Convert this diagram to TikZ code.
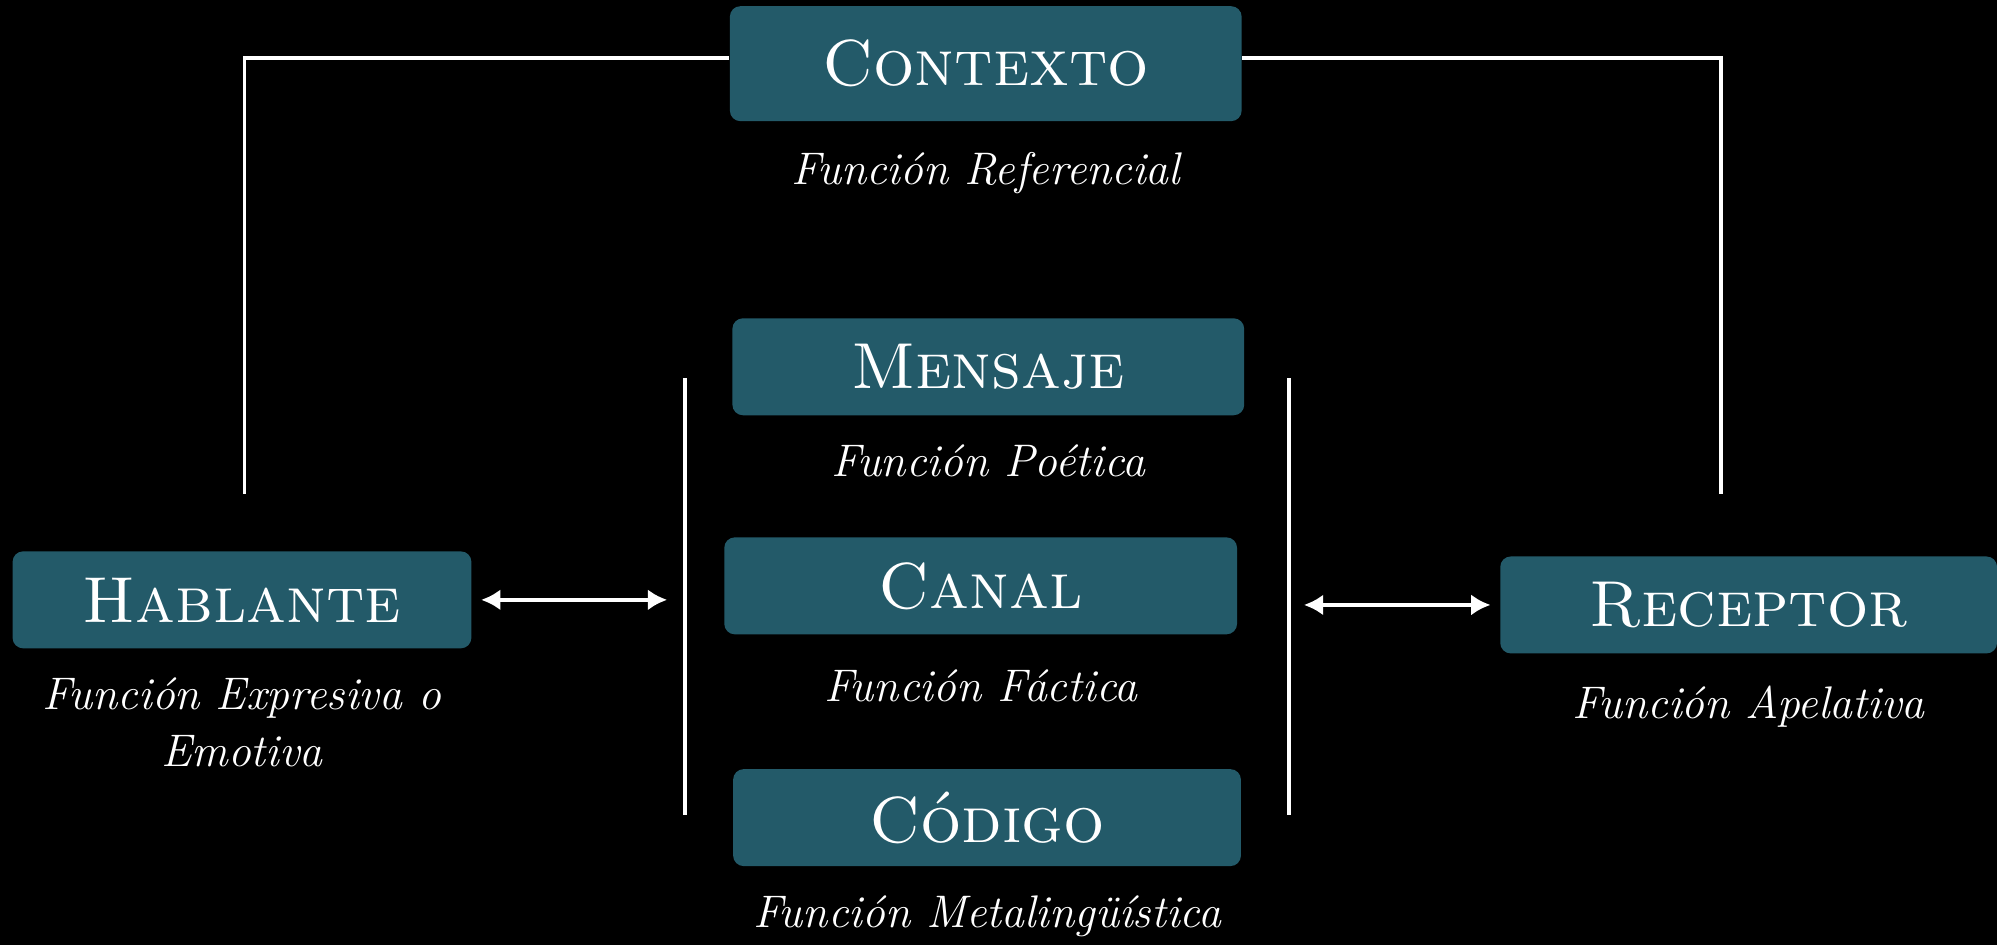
\documentclass[tikz,border=0pt]{standalone}
\usepackage{xcolor}
\usepackage{tikz}
\usetikzlibrary{shapes,arrows,arrows.meta,positioning}
\definecolor{boxteal}{RGB}{35,90,105}
\tikzstyle{block} = [rectangle, fill=boxteal, text=white, rounded corners=3pt,
    inner sep=0pt, minimum height=0.97cm, font=\fontsize{18.5}{22}\selectfont]
\tikzstyle{func} = [text=white, inner sep=0pt, align=center,
    font=\fontsize{13}{16.3}\selectfont\itshape]
\tikzstyle{line} = [draw=white, line width=1.1pt]
\tikzstyle{link} = [draw=white, line width=1.2pt, {Latex[length=5.5pt,width=6pt]}-{Latex[length=5.5pt,width=6pt]}]

\begin{document}
\begin{tikzpicture}[x=0.012736cm, y=-0.012736cm, node distance=0.28cm]
    \fill[black] (0,0) rectangle (1568,742);
    \useasboundingbox (0,0) rectangle (1568,742);

    % Nodes
    \node [block, minimum width=5.12cm, minimum height=1.15cm] (contexto) at (774,50) {\textsc{Contexto}};
    \node [func, below=0.3cm of contexto] (referencial) {Función Referencial};
    \node [block, minimum width=5.12cm] (mensaje) at (776,288) {\textsc{Mensaje}};
    \node [func, below=of mensaje] (poetica) {Función Poética};
    \node [block, minimum width=5.13cm] (canal) at (770,460) {\textsc{Canal}};
    \node [func, below=0.34cm of canal] (factica) {Función Fáctica};
    \node [block, minimum width=5.08cm] (codigo) at (775,642) {\textsc{Código}};
    \node [func, below=of codigo] (metaling) {Función Metalingüística};
    \node [block, minimum width=4.59cm] (hablante) at (190,471) {\textsc{Hablante}};
    \node [func, below=of hablante] (expresiva) {Función Expresiva o\\Emotiva};
    \node [block, minimum width=4.97cm] (receptor) at (1373,475) {\textsc{Receptor}};
    \node [func, below=0.31cm of receptor] (apelativa) {Función Apelativa};

    \coordinate (habtop) at (192,388);
    \coordinate (rectop) at (1351,388);
    \coordinate (lbartop) at (538,297);
    \coordinate (lbarbot) at (538,640);
    \coordinate (rbartop) at (1012,297);
    \coordinate (rbarbot) at (1012,640);

    % Edges
    \path [line] ([yshift=0.06cm]contexto.west) -| (habtop);
    \path [line] ([yshift=0.06cm]contexto.east) -| (rectop);
    \path [line] (lbartop) -- (lbarbot);
    \path [line] (rbartop) -- (rbarbot);
    \path [link] ([xshift=0.09cm]hablante.east) -- ([xshift=-0.18cm]hablante.east -| lbartop);
    \path [link] ([xshift=0.15cm]receptor.west -| rbartop) -- ([xshift=-0.09cm]receptor.west);
\end{tikzpicture}
\end{document}
